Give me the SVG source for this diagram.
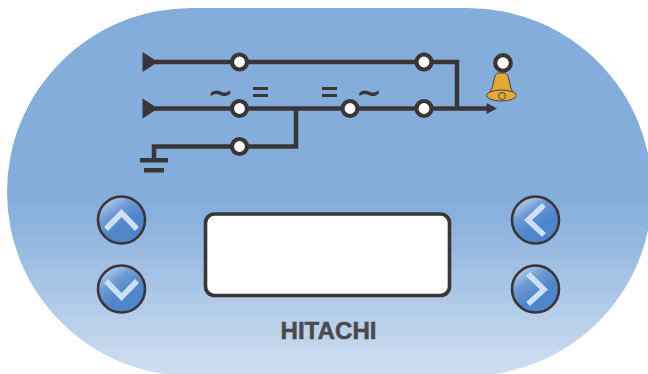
<svg xmlns="http://www.w3.org/2000/svg" width="648" height="374" viewBox="0 0 648 374">
<style>
.w{fill:none;stroke:#3a3638;stroke-width:4.5}
.t{fill:#3a3638}
.n{fill:#fff;stroke:#3a3638;stroke-width:4.2}
.btn{stroke:#3a3638;stroke-width:2.6;fill:url(#b)}
.ch{fill:none;stroke:#cfe0f6;stroke-width:5.5}
.eq{fill:none;stroke:#3a3638;stroke-width:3}
.sym{font-family:"DejaVu Sans",sans-serif;font-size:31px;font-weight:700;fill:#3a3638;text-anchor:middle}
</style>
<defs>
<linearGradient id="bg" x1="0" y1="0" x2="0" y2="1">
<stop offset="0" stop-color="#84addc"/><stop offset="0.53" stop-color="#84addc"/><stop offset="1" stop-color="#d0dff0"/>
</linearGradient>
<linearGradient id="b" x1="0.15" y1="0" x2="0.55" y2="0.6">
<stop offset="0" stop-color="#c8d9ef"/><stop offset="0.55" stop-color="#6f9ad4"/><stop offset="1" stop-color="#4f86cb"/>
</linearGradient>
</defs>
<g id="body"><rect x="7" y="8" width="645" height="368" rx="184" ry="184" fill="url(#bg)"/></g>
<g id="connectors">
<path class="w" d="M155 62H457V108.500"/>
<path class="w" d="M155 108.500H489"/>
<path class="w" d="M296 108.500V146.500H154V160"/>
<path class="t" d="M142.500 52L158 62L142.500 72Z"/>
<path class="t" d="M142.500 98.500L158 108.500L142.500 118.500Z"/>
<path class="t" d="M486.500 103L497 108.500L486.500 114Z"/>
<rect class="t" x="140" y="158" width="28" height="4.500"/>
<rect class="t" x="144" y="168" width="20" height="4.500"/>
</g>
<g id="n1"><circle class="n" cx="239.500" cy="62" r="7.500"/></g>
<g id="n2"><circle class="n" cx="424" cy="62" r="7.500"/></g>
<g id="n3"><circle class="n" cx="239.500" cy="108.500" r="7.500"/></g>
<g id="n4"><circle class="n" cx="350" cy="108.500" r="7.500"/></g>
<g id="n5"><circle class="n" cx="424" cy="108.500" r="7.500"/></g>
<g id="n6"><circle class="n" cx="239.500" cy="146.500" r="7.500"/></g>
<g id="sym1"><text class="sym" x="220.500" y="103">~</text></g>
<g id="sym2"><path class="eq" d="M253 88.500H268M253 95.500H268"/></g>
<g id="sym3"><path class="eq" d="M322 88.500H337M322 95.500H337"/></g>
<g id="sym4"><text class="sym" x="369" y="103">~</text></g>
<g id="bell">
<circle class="n" cx="503" cy="63" r="7.800"/>
<path d="M497.500 73H504.500Q508 73.500 509 80Q510 89 514 94H489Q493 88 494 80Q495 73.500 497.500 73Z" fill="#e3a93a" stroke="#4a4038" stroke-width="1"/>
<ellipse cx="501.500" cy="95.500" rx="15" ry="5.500" fill="#e3a93a" stroke="#4a4038" stroke-width="1"/>
<circle cx="502" cy="96" r="3.500" fill="#e3a93a" stroke="#4a4038" stroke-width="1"/>
</g>
<g id="display"><rect x="205.500" y="214" width="244" height="81.500" rx="9" fill="#fff" stroke="#3a3638" stroke-width="3.600"/></g>
<g id="up"><circle class="btn" cx="121.500" cy="220" r="23.500"/><path class="ch" d="M106 229L121.500 213L137 229"/></g>
<g id="down"><circle class="btn" cx="121.500" cy="289" r="23.500"/><path class="ch" d="M106 281L121.500 297L137 281"/></g>
<g id="left"><circle class="btn" cx="535.500" cy="220" r="23.500"/><path class="ch" d="M544 205L528 220L544 235"/></g>
<g id="right"><circle class="btn" cx="535.500" cy="289" r="23.500"/><path class="ch" d="M528 274L544 289.500L528 304"/></g>
<g id="logo"><text x="280.500" y="339" font-family="'Liberation Sans',Arial,sans-serif" font-weight="700" font-size="23" textLength="96" lengthAdjust="spacingAndGlyphs" fill="#4a4a4e" stroke="#4a4a4e" stroke-width="0.500">HITACHI</text></g>
</svg>
